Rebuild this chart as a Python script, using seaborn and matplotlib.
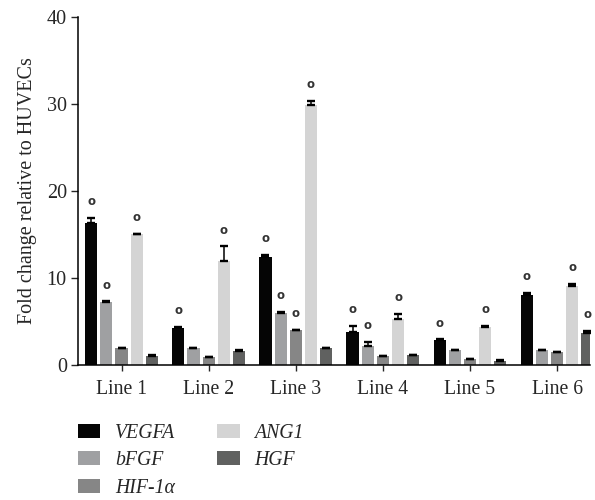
import numpy as np
import pandas as pd
import matplotlib
matplotlib.use("Agg")
import matplotlib.pyplot as plt
import seaborn as sns
from matplotlib.patches import Patch

lines = ["Line 1", "Line 2", "Line 3", "Line 4", "Line 5", "Line 6"]
genes = ["VEGFA", "bFGF", "HIF-1α", "ANG1", "HGF"]

vegfa = [16.3, 4.23, 12.4, 3.8, 2.8, 7.97]
bfgf = [7.16, 1.92, 5.96, 2.1, 1.65, 1.65]
hif1a = [1.92, 0.88, 3.96, 0.96, 0.61, 1.42]
ang1 = [15.0, 11.9, 29.8, 5.23, 4.3, 9.04]
hgf = [1.04, 1.54, 1.92, 1.1, 0.46, 3.6]

vegfa_err = [0.6, 0.15, 0.25, 0.7, 0.1, 0.3]
bfgf_err = [0.15, 0.05, 0.1, 0.5, 0.05, 0.05]
hif1a_err = [0.05, 0.05, 0.08, 0.05, 0.05, 0.05]
ang1_err = [0.08, 1.7, 0.5, 0.6, 0.2, 0.23]
hgf_err = [0.08, 0.15, 0.05, 0.05, 0.05, 0.28]

# significance markers ("o") per gene per line
vegfa_sig = [1, 1, 1, 1, 1, 1]
bfgf_sig = [1, 0, 1, 1, 0, 0]
hif1a_sig = [0, 0, 1, 0, 0, 0]
ang1_sig = [1, 1, 1, 1, 1, 1]
hgf_sig = [0, 0, 0, 0, 0, 1]

colors = ["#050505", "#9fa0a2", "#868686", "#d4d4d4", "#606160"]

means = [vegfa, bfgf, hif1a, ang1, hgf]
errs = [vegfa_err, bfgf_err, hif1a_err, ang1_err, hgf_err]
sigs = [vegfa_sig, bfgf_sig, hif1a_sig, ang1_sig, hgf_sig]

rows = []
for g, m in zip(genes, means):
    for l, v in zip(lines, m):
        rows.append({"line": l, "gene": g, "value": v})
df = pd.DataFrame(rows)

sns.set_style("ticks")
plt.rcParams["font.family"] = ["Liberation Serif", "DejaVu Serif"]

fig = plt.figure(figsize=(5.95, 5.0), dpi=100)
ax = fig.add_axes([0.131, 0.2706, 0.861, 0.696])

sns.barplot(data=df, x="line", y="value", hue="gene", order=lines, hue_order=genes,
            palette=colors, errorbar=None, width=0.87, gap=0.2, saturation=1,
            edgecolor="none", linewidth=0, ax=ax, legend=False)

for cont, err, sig in zip(ax.containers, errs, sigs):
    xs = [b.get_x() + b.get_width() / 2 for b in cont]
    hs = [b.get_height() for b in cont]
    ax.errorbar(xs, hs, yerr=[np.zeros(len(err)), err], fmt="none", ecolor="black",
                elinewidth=1.1, capsize=2.8, capthick=1.7)
    for x, h, e, s in zip(xs, hs, err, sig):
        if s:
            ax.text(x, h + e + 1.85, "o", ha="center", va="center", fontsize=8.5,
                    family="DejaVu Sans", fontweight="bold", color="#333333")

ax.set_ylim(0, 40)
ax.set_xlim(-0.5, 5.38)
ax.set_yticks([0, 10, 20, 30, 40])
ax.set_xlabel("")
ax.set_ylabel("Fold change relative to HUVECs", fontsize=14.5, labelpad=7)
ax.tick_params(axis="y", labelsize=14.5, length=5, width=1, direction="out", pad=3)
ax.tick_params(axis="x", labelsize=14.2, length=4, width=1, direction="out", pad=7)
for s in ["top", "right"]:
    ax.spines[s].set_visible(False)
for s in ["left", "bottom"]:
    ax.spines[s].set_linewidth(1.1)
    ax.spines[s].set_color("black")

handles = [Patch(facecolor=c, edgecolor="none") for c in colors]
fig.legend(handles, genes, loc="upper left", bbox_to_anchor=(0.131, 0.152), ncol=2,
           frameon=False, prop={"style": "italic", "size": 14.2},
           handlelength=1.12, handleheight=0.7, handletextpad=0.75,
           columnspacing=2.15, labelspacing=0.42, borderaxespad=0, borderpad=0)

fig.savefig("out.png", dpi=100)
